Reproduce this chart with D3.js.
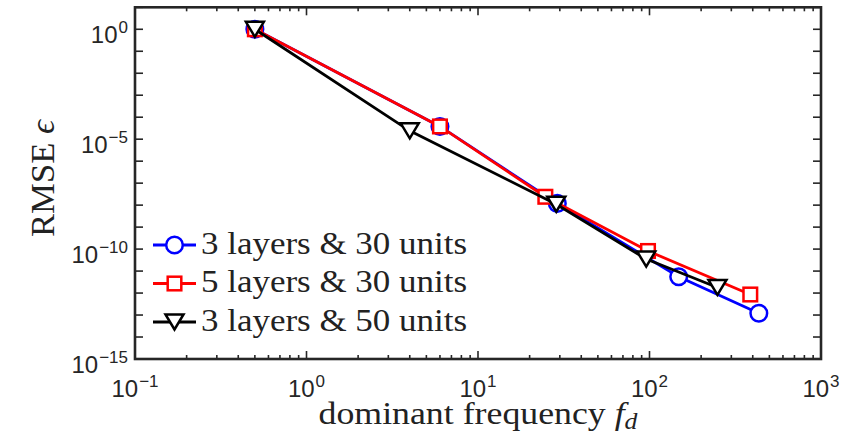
<!DOCTYPE html>
<html>
<head>
<meta charset="utf-8">
<script src="https://cdn.jsdelivr.net/npm/d3@7"></script>
<style>
  body { margin: 0; background: #fff; }
  svg { display: block; }
</style>
</head>
<body>
<svg id="chart" width="846" height="442"></svg>
<script>
// values
var seriesNames = ["3 layers & 30 units", "5 layers & 30 units", "3 layers & 50 units"];
var freqBlue = [0.5, 6, 29, 148, 434];
var rmseBlue = [1.0, 3.8e-5, 1.2e-8, 5.5e-12, 1.2e-13];
var freqRed = [0.5, 6, 24.7, 98, 387];
var rmseRed = [1.0, 3.8e-5, 2.4e-8, 8.2e-11, 8.6e-13];
var freqBlack = [0.5, 4, 28.6, 95.7, 249];
var rmseBlack = [1.0, 2.4e-5, 1.1e-8, 3.5e-11, 1.8e-12];
var xTickExp = [-1, 0, 1, 2, 3];
var yTickExp = [-15, -10, -5, 0];

var svg = d3.select("#chart");
// plot box (note: "top" is taken by window.top)
var boxL = 135, boxR = 821, boxT = 7.3, boxB = 359;
var axisColor = "#262626";
var sansFont = "'Liberation Sans', Arial, sans-serif";
var serifFont = "'Liberation Serif', 'DejaVu Serif', serif";

var x = d3.scaleLog().domain([1e-1, 1e3]).range([boxL, boxR]);
var y = d3.scaleLog().domain([1e-15, 1e1]).range([boxB, boxT]);

var series = [
    {name: seriesNames[0], xs: freqBlue, ys: rmseBlue, color: "#0000ff", marker: "circle"},
    {name: seriesNames[1], xs: freqRed, ys: rmseRed, color: "#ff0000", marker: "square"},
    {name: seriesNames[2], xs: freqBlack, ys: rmseBlack, color: "#000000", marker: "triangle"}
];

// ticks: minor x every 2..9, major on decades
var xMajor = xTickExp.map(function(e) { return Math.pow(10, e); });
var xMinor = [];
for (let e = -1; e < 3; e++) {
    for (let k = 2; k <= 9; k++) xMinor.push(k * Math.pow(10, e));
}
var yMajor = d3.range(-15, 2).map(function(e) { return Math.pow(10, e); });

var ticks = svg.append("g").attr("stroke", axisColor).attr("stroke-width", 1.6);
function tickX(vals, len) {
    for (let v of vals) {
        ticks.append("line").attr("x1", x(v)).attr("x2", x(v)).attr("y1", boxB).attr("y2", boxB - len);
        ticks.append("line").attr("x1", x(v)).attr("x2", x(v)).attr("y1", boxT).attr("y2", boxT + len);
    }
}
tickX(xMinor, 4);
tickX(xMajor, 8);
for (let v of yMajor) {
    ticks.append("line").attr("x1", boxL).attr("x2", boxL + 8).attr("y1", y(v)).attr("y2", y(v));
    ticks.append("line").attr("x1", boxR).attr("x2", boxR - 8).attr("y1", y(v)).attr("y2", y(v));
}

// box
svg.append("rect")
    .attr("x", boxL).attr("y", boxT)
    .attr("width", boxR - boxL).attr("height", boxB - boxT)
    .attr("fill", "none").attr("stroke", axisColor).attr("stroke-width", 2.6);

// tick labels 10^n
function powerLabel(g, e) {
    g.append("tspan").text("10");
    g.append("tspan").attr("dy", -10).attr("dx", 1).attr("font-size", 17).text(e < 0 ? "\u2212" + (-e) : e);
}
for (let e of xTickExp) {
    let t = svg.append("text")
        .attr("x", x(Math.pow(10, e))).attr("y", 397)
        .attr("text-anchor", "middle")
        .attr("font-family", sansFont).attr("font-size", 24).attr("fill", axisColor);
    powerLabel(t, e);
}
for (let e of yTickExp) {
    let t = svg.append("text")
        .attr("x", 128).attr("y", y(Math.pow(10, e)) + 14)
        .attr("text-anchor", "end")
        .attr("font-family", sansFont).attr("font-size", 24).attr("fill", axisColor);
    powerLabel(t, e);
}

// axis labels
var xl = svg.append("text")
    .attr("x", (boxL + boxR) / 2).attr("y", 424)
    .attr("text-anchor", "middle")
    .attr("font-family", serifFont).attr("font-size", 32).attr("fill", "#222")
    .attr("textLength", 319).attr("lengthAdjust", "spacingAndGlyphs");
xl.append("tspan").text("dominant frequency ");
xl.append("tspan").attr("font-style", "italic").text("f");
xl.append("tspan").attr("font-style", "italic").attr("font-size", 23).attr("dy", 5).text("d");

var yl = svg.append("text")
    .attr("transform", "translate(54," + 178.5 + ") rotate(-90)")
    .attr("text-anchor", "middle")
    .attr("font-family", serifFont).attr("font-size", 33).attr("fill", "#222")
    .attr("textLength", 117).attr("lengthAdjust", "spacingAndGlyphs");
yl.append("tspan").text("RMSE ");
yl.append("tspan").attr("font-style", "italic").text("\u03F5");

// markers
function drawMarker(g, kind, cx, cy, color) {
    if (kind === "circle") {
        g.append("circle").attr("cx", cx).attr("cy", cy).attr("r", 8.3)
            .attr("fill", "#fff").attr("stroke", color).attr("stroke-width", 2.5);
    } else if (kind === "square") {
        g.append("rect").attr("x", cx - 6.8).attr("y", cy - 6.8).attr("width", 13.6).attr("height", 13.6)
            .attr("fill", "#fff").attr("stroke", color).attr("stroke-width", 2.5);
    } else {
        g.append("path")
            .attr("d", "M" + (cx - 9) + "," + (cy - 7.5) + "L" + (cx + 9) + "," + (cy - 7.5) + "L" + cx + "," + (cy + 7.5) + "Z")
            .attr("fill", "#fff").attr("stroke", color).attr("stroke-width", 2.5).attr("stroke-linejoin", "miter");
    }
}

var line = d3.line().x(function(d) { return x(d[0]); }).y(function(d) { return y(d[1]); });
var plot = svg.append("g");
for (let s of series) {
    let pts = d3.zip(s.xs, s.ys);
    let g = plot.append("g");
    g.append("path").datum(pts).attr("d", line)
        .attr("fill", "none").attr("stroke", s.color).attr("stroke-width", 2.8);
    for (let p of pts) drawMarker(g, s.marker, x(p[0]), y(p[1]), s.color);
}

// legend, no box
var legendY = [245, 283.5, 322];
series.forEach(function(s, i) {
    let g = svg.append("g");
    g.append("line").attr("x1", 153).attr("x2", 196).attr("y1", legendY[i]).attr("y2", legendY[i])
        .attr("stroke", s.color).attr("stroke-width", 2.8);
    drawMarker(g, s.marker, 174.5, legendY[i], s.color);
    g.append("text").attr("x", 201).attr("y", legendY[i] + 8.5)
        .attr("font-family", serifFont).attr("font-size", 31).attr("fill", "#222")
        .attr("textLength", 266).attr("lengthAdjust", "spacingAndGlyphs")
        .text(s.name);
});
</script>
</body>
</html>
